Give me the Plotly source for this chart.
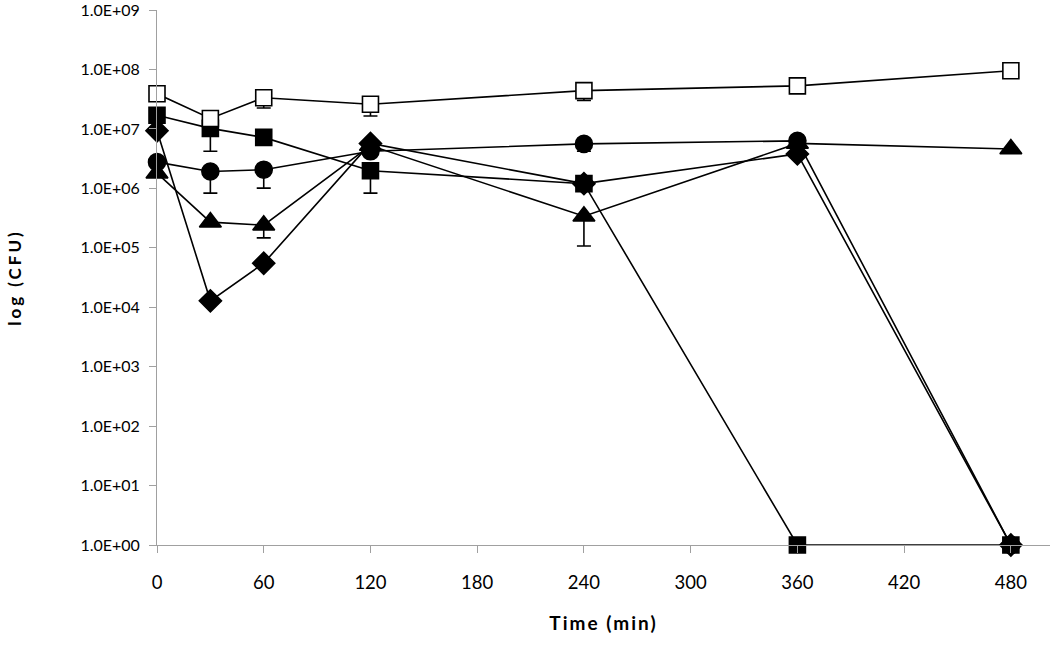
import plotly.graph_objects as go

times = [0, 30, 60, 120, 240, 360, 480]

open_square = [3.9e7, 1.5e7, 3.35e7, 2.6e7, 4.4e7, 5.3e7, 9.5e7]
open_square_err = [0, 0, 1.1e7, 0.95e7, 1.4e7, 0, 0]

filled_square = [1.7e7, 1.02e7, 7.2e6, 1.98e6, 1.2e6, 1, 1]
filled_square_err = [0, 6.0e6, 0, 1.15e6, 0, 0, 0]

circle = [2.76e6, 1.92e6, 2.06e6, 4.2e6, 5.6e6, 6.3e6, 1]
circle_err = [0, 1.09e6, 1.05e6, 0, 1.4e6, 0, 0]

triangle = [1.8e6, 2.7e5, 2.4e5, 5.25e6, 3.4e5, 5.7e6, 4.6e6]
triangle_err = [0, 0, 9.3e4, 0, 2.33e5, 0, 0]

diamond = [9.3e6, 1.28e4, 5.5e4, 5.7e6, 1.2e6, 3.8e6, 1]
diamond_err = [0, 0, 0, 0, 0, 0, 0]

y_tickvals = [1, 1e1, 1e2, 1e3, 1e4, 1e5, 1e6, 1e7, 1e8, 1e9]
y_ticktext = ["1.0E+00", "1.0E+01", "1.0E+02", "1.0E+03", "1.0E+04",
              "1.0E+05", "1.0E+06", "1.0E+07", "1.0E+08", "1.0E+09"]
x_tickvals = [0, 60, 120, 180, 240, 300, 360, 420, 480]

FONT = "Lato"

series = [
    ("triangle", triangle, triangle_err, "triangle-up", 19, "black"),
    ("diamond", diamond, diamond_err, "diamond", 17, "black"),
    ("circle", circle, circle_err, "circle", 17, "black"),
    ("filled square", filled_square, filled_square_err, "square", 16, "black"),
    ("open square", open_square, open_square_err, "square", 16, "white"),
]

fig = go.Figure()
for name, vals, err, sym, size, fill in series:
    fig.add_trace(go.Scatter(
        x=times, y=vals, name=name, mode="lines+markers",
        line=dict(color="black", width=1.6),
        marker=dict(symbol=sym, size=size, color=fill,
                    line=dict(color="black", width=1.6)),
        error_y=dict(type="data", symmetric=False, array=[0] * len(err),
                     arrayminus=err, color="black", thickness=1.6, width=7),
        cliponaxis=False,
        showlegend=False,
    ))

fig.update_layout(
    width=1050, height=659,
    margin=dict(l=157, r=0, t=10, b=114),
    paper_bgcolor="white", plot_bgcolor="white",
    font=dict(family=FONT, size=15, color="black"),
)
fig.update_xaxes(
    range=[0, 502], tickvals=x_tickvals, ticks="outside", ticklen=7,
    tickcolor="#a0a0a0", showline=True, linecolor="#a0a0a0", linewidth=1,
    showgrid=False, zeroline=False, tickfont=dict(size=18.5), automargin=False,
    ticklabelstandoff=14, ticklabeloverflow="allow",
    title=dict(text='<span style="letter-spacing:2px"><b>Time (min)</b></span>',
               font=dict(size=19), standoff=24),
)
fig.update_yaxes(
    type="log", range=[0, 9.0005], tickvals=y_tickvals, ticktext=y_ticktext,
    ticks="outside", ticklen=7, tickcolor="#a0a0a0", showline=True,
    linecolor="#a0a0a0", linewidth=1, showgrid=False, zeroline=False,
    tickfont=dict(size=16), automargin=False, ticklabelstandoff=6,
    ticklabeloverflow="allow",
    title=dict(text='<span style="letter-spacing:3px"><b>log (CFU)</b></span>',
               font=dict(size=17), standoff=54),
)

fig.write_html("out.html", config={"displayModeBar": False},
               post_script="document.body.style.margin='0';")
